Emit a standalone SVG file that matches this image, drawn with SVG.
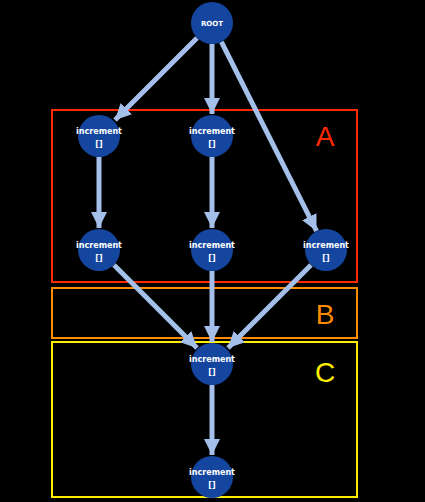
<svg xmlns="http://www.w3.org/2000/svg" width="425" height="502" viewBox="0 0 425 502">
<style>
.edge{stroke:#a4c0ea;stroke-width:5;fill:none;marker-end:url(#ah)}
.node circle{fill:#1446a0}
.node text{fill:#ffffff;font-family:"DejaVu Sans",sans-serif;font-weight:bold;text-anchor:middle}
.lbl{font-size:8px}
.box{fill:none;stroke-width:2}
.big{font-family:"Liberation Sans",Arial,sans-serif;font-size:28px;text-anchor:middle}
</style>
<defs>
<marker id="ah" markerUnits="userSpaceOnUse" markerWidth="16" markerHeight="16" viewBox="0 0 16 16" refX="16" refY="8" orient="auto">
<path d="M0,0 L16,8 L0,16 Z" fill="#a4c0ea"/>
</marker>
</defs>
<rect width="425" height="502" fill="#000000"/>
<g id="regions">
<rect class="box" x="52" y="110" width="305" height="172" stroke="#ff2a00"/>
<text class="big" x="325" y="146" fill="#ff2a00">A</text>
<rect class="box" x="52" y="288" width="305" height="50" stroke="#ff8c00"/>
<text class="big" x="325" y="324" fill="#ff8c00">B</text>
<rect class="box" x="52" y="342" width="305" height="155" stroke="#ffee00"/>
<text class="big" x="325" y="382" fill="#ffee00">C</text>
</g>
<g id="edges">
<line class="edge" x1="197" y1="38" x2="115" y2="120"/>
<line class="edge" x1="212" y1="44" x2="212" y2="114"/>
<line class="edge" x1="221.4" y1="41.8" x2="316.5" y2="231"/>
<line class="edge" x1="99" y1="157" x2="99" y2="228"/>
<line class="edge" x1="212" y1="157" x2="212" y2="228"/>
<line class="edge" x1="114" y1="265" x2="197" y2="348"/>
<line class="edge" x1="212" y1="271" x2="212" y2="342"/>
<line class="edge" x1="311" y1="265" x2="228" y2="348"/>
<line class="edge" x1="212" y1="385" x2="212" y2="455"/>
</g>
<g id="root" class="node"><circle cx="212" cy="23" r="21"/><text class="lbl" x="212" y="26" style="font-size:7px">ROOT</text></g>
<g id="n1" class="node"><circle cx="99" cy="136" r="21"/><text class="lbl" x="99" y="134">increment</text><text class="lbl" x="99" y="147">[]</text></g>
<g id="n2" class="node"><circle cx="212" cy="136" r="21"/><text class="lbl" x="212" y="134">increment</text><text class="lbl" x="212" y="147">[]</text></g>
<g id="n3" class="node"><circle cx="99" cy="250" r="21"/><text class="lbl" x="99" y="248">increment</text><text class="lbl" x="99" y="261">[]</text></g>
<g id="n4" class="node"><circle cx="212" cy="250" r="21"/><text class="lbl" x="212" y="248">increment</text><text class="lbl" x="212" y="261">[]</text></g>
<g id="n5" class="node"><circle cx="326" cy="250" r="21"/><text class="lbl" x="326" y="248">increment</text><text class="lbl" x="326" y="261">[]</text></g>
<g id="n6" class="node"><circle cx="212" cy="364" r="21"/><text class="lbl" x="212" y="362">increment</text><text class="lbl" x="212" y="375">[]</text></g>
<g id="n7" class="node"><circle cx="212" cy="477" r="21"/><text class="lbl" x="212" y="475">increment</text><text class="lbl" x="212" y="488">[]</text></g>
</svg>
